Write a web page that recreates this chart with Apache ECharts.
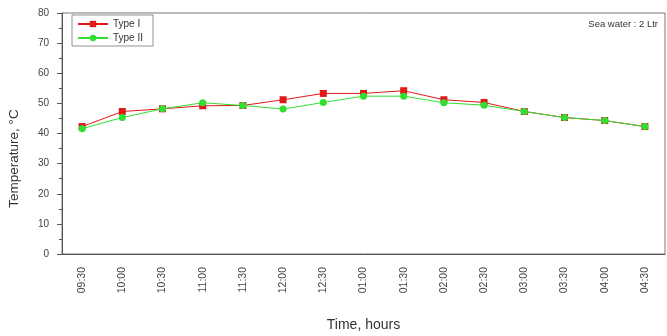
<!DOCTYPE html>
<html><head><meta charset="utf-8">
<script src="https://cdn.jsdelivr.net/npm/echarts@6/dist/echarts.min.js"></script>
<style>html,body{margin:0;padding:0;background:#fff}#c{width:667px;height:336px}</style>
</head><body><div id="c"></div>
<script>
const categories = ['09:30','10:00','10:30','11:00','11:30','12:00','12:30','01:00','01:30','02:00','02:30','03:00','03:30','04:00','04:30'];
const typeI  = [42.3, 47.3, 48.2, 49.2, 49.3, 51.2, 53.3, 53.3, 54.2, 51.2, 50.3, 47.3, 45.3, 44.3, 42.3];
const typeII = [41.6, 45.3, 48.2, 50.2, 49.3, 48.1, 50.3, 52.4, 52.4, 50.2, 49.4, 47.3, 45.3, 44.3, 42.3];
const yTicks = [0, 10, 20, 30, 40, 50, 60, 70, 80];

const chart = echarts.init(document.getElementById('c'));
const axisColor = '#555';
chart.setOption({
  animation: false,
  textStyle: {fontFamily: 'Liberation Sans, Arial, sans-serif'},
  grid: {left: 62, right: 2, top: 13, bottom: 82, show: true, borderColor: '#777', borderWidth: 1, outerBoundsMode: 'none', containLabel: false},
  legend: {
    left: 72, top: 15, orient: 'vertical', itemGap: 4, itemWidth: 30, itemHeight: 8,
    borderColor: '#777', borderWidth: 0.8, padding: [4, 10, 3, 5],
    textStyle: {fontSize: 10, color: '#333'},
    data: ['Type I', 'Type II']
  },
  title: {
    text: 'Sea water : 2 Ltr', right: 4, top: 14,
    textStyle: {fontSize: 9.5, fontWeight: 'normal', color: '#333'}
  },
  xAxis: [{
    type: 'category', data: categories, boundaryGap: true,
    name: 'Time, hours', nameLocation: 'middle', nameGap: 64,
    nameTextStyle: {fontSize: 14, color: '#333'},
    axisLine: {lineStyle: {color: axisColor}},
    axisTick: {alignWithLabel: true, length: 5, lineStyle: {color: axisColor}},
    axisLabel: {rotate: 90, fontSize: 10.5, color: '#444', margin: 13, interval: 0}
  }, {
    type: 'category', data: categories, boundaryGap: true, position: 'bottom',
    axisLine: {show: false}, axisLabel: {show: false},
    axisTick: {alignWithLabel: false, length: 3, lineStyle: {color: axisColor}}
  }],
  yAxis: {
    type: 'value', min: yTicks[0], max: yTicks[yTicks.length - 1], interval: 10,
    name: 'Temperature, °C', nameLocation: 'middle', nameGap: 41,
    nameTextStyle: {fontSize: 13.5, color: '#333', padding: [0, 50, 0, 0]},
    axisLine: {show: true, lineStyle: {color: axisColor}},
    axisTick: {show: true, length: 5, lineStyle: {color: axisColor}},
    minorTick: {show: true, splitNumber: 2, length: 3, lineStyle: {color: axisColor}},
    axisLabel: {fontSize: 10, color: '#444', margin: 13},
    splitLine: {show: false}
  },
  series: [{
    name: 'Type I', type: 'line', data: typeI, symbol: 'rect', symbolSize: 7,
    itemStyle: {color: '#e01818'}, lineStyle: {color: '#e01818', width: 1}, z: 2
  }, {
    name: 'Type II', type: 'line', data: typeII, symbol: 'circle', symbolSize: 7,
    itemStyle: {color: '#30e030'}, lineStyle: {color: '#30e030', width: 1}, z: 3
  }]
});
</script></body></html>
